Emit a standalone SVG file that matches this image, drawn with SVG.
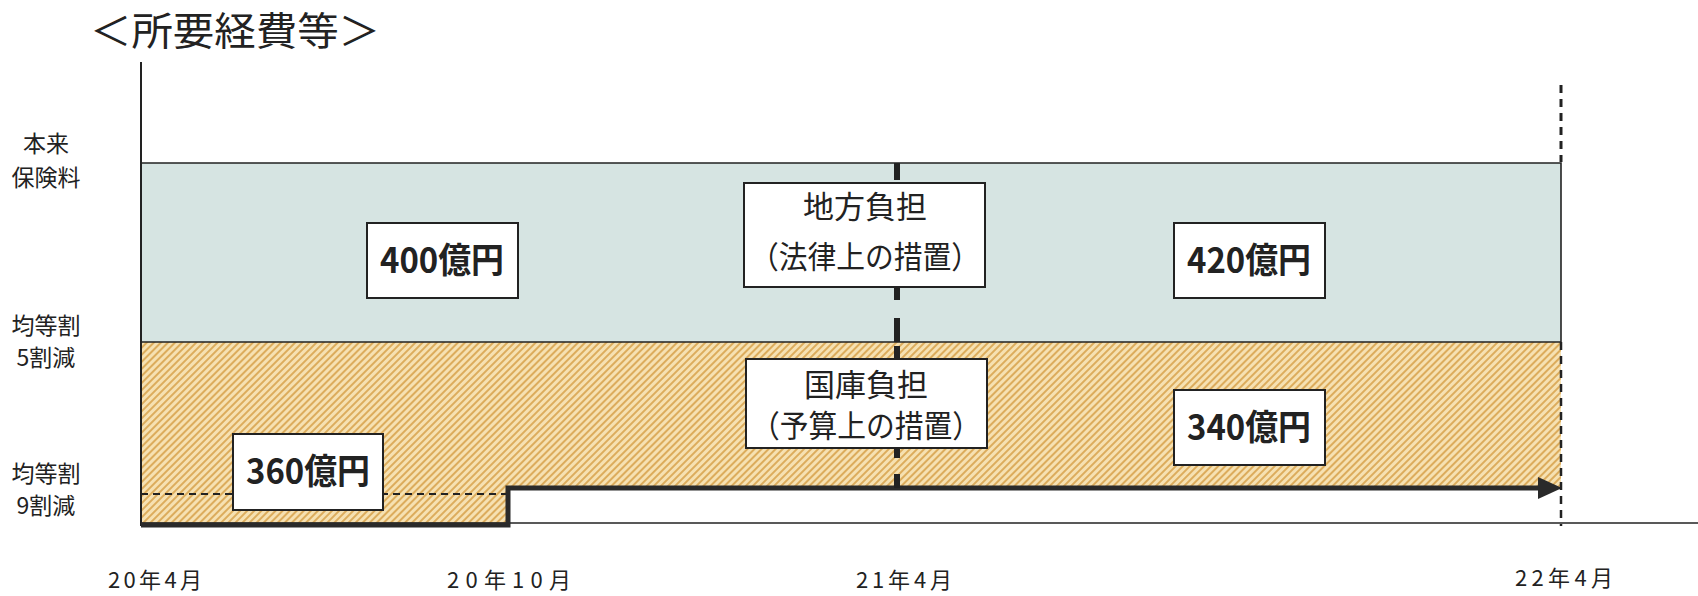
<svg xmlns="http://www.w3.org/2000/svg" width="1698" height="596" viewBox="0 0 1698 596">
<defs>
<pattern id="hatch" patternUnits="userSpaceOnUse" width="5" height="5" patternTransform="rotate(45)">
<rect width="5" height="5" fill="#f6e1b2"/>
<rect width="2" height="5" fill="#dcac5c"/>
</pattern>
</defs>
<style>
.jp{font-family:"Noto Sans CJK JP","Noto Sans",sans-serif;fill:#222}
.lbl{font-size:23px;text-anchor:middle}
.ax{font-size:22px;text-anchor:middle}
.amt{font-family:"Noto Sans CJK JP",sans-serif;font-weight:bold;font-size:35px;fill:#222;text-anchor:middle}
.box{fill:#fff;stroke:#222;stroke-width:2}
.note{font-size:31px;text-anchor:middle}
</style>
<rect width="1698" height="596" fill="#fff"/>
<g id="title"><text class="jp" x="235" y="45" font-size="39" text-anchor="middle" textLength="290" lengthAdjust="spacingAndGlyphs">＜所要経費等＞</text></g>
<g id="bands">
<rect x="141" y="163" width="1420" height="179" fill="#d6e4e2"/>
<path d="M141 342 H1561 V488 H508 V525 H141 Z" fill="url(#hatch)"/>
<path d="M141 163 H1561 V342 M141 342 H1561" fill="none" stroke="#222" stroke-width="1.6"/>
</g>
<g id="y-labels">
<text class="jp lbl" x="46" y="152">本来</text>
<text class="jp lbl" x="46" y="186">保険料</text>
<text class="jp lbl" x="46" y="334">均等割</text>
<text class="jp lbl" x="46" y="366">5割減</text>
<text class="jp lbl" x="46" y="482">均等割</text>
<text class="jp lbl" x="46" y="514">9割減</text>
</g>
<g id="connectors">
<line x1="141" y1="62" x2="141" y2="526" stroke="#222" stroke-width="2"/>
<line x1="141" y1="523" x2="1698" y2="523" stroke="#222" stroke-width="1.6"/>
<line x1="141" y1="494" x2="508" y2="494" stroke="#222" stroke-width="1.8" stroke-dasharray="7 5"/>
<path d="M141 525 H508 V488 H1542" fill="none" stroke="#2a2a2a" stroke-width="5"/>
<polygon points="1538,477 1562,488 1538,499" fill="#2a2a2a"/>
<line x1="1561" y1="85" x2="1561" y2="162" stroke="#222" stroke-width="3" stroke-dasharray="8 6"/>
<line x1="1561" y1="342" x2="1561" y2="526" stroke="#222" stroke-width="2.5" stroke-dasharray="8 6"/>
<path d="M897 163 V180 M897 287 V300 M897 318 V342 M897 346 V359 M897 448 V458 M897 474 V488" stroke="#222" stroke-width="6" fill="none"/>
</g>
<g id="box400">
<rect class="box" x="367" y="223" width="151" height="75"/>
<text class="amt" x="442" y="273" textLength="124" lengthAdjust="spacingAndGlyphs">400億円</text>
</g>
<g id="box420">
<rect class="box" x="1174" y="223" width="151" height="75"/>
<text class="amt" x="1249" y="273" textLength="124" lengthAdjust="spacingAndGlyphs">420億円</text>
</g>
<g id="box360">
<rect class="box" x="233" y="434" width="150" height="76"/>
<text class="amt" x="308" y="484" textLength="124" lengthAdjust="spacingAndGlyphs">360億円</text>
</g>
<g id="box340">
<rect class="box" x="1174" y="390" width="151" height="75"/>
<text class="amt" x="1249" y="440" textLength="124" lengthAdjust="spacingAndGlyphs">340億円</text>
</g>
<g id="box-chiho">
<rect class="box" x="744" y="183" width="241" height="104"/>
<text class="jp note" x="865" y="218">地方負担</text>
<text class="jp note" x="865" y="268" textLength="230" lengthAdjust="spacingAndGlyphs">（法律上の措置）</text>
</g>
<g id="box-kokko">
<rect class="box" x="746" y="359" width="241" height="89"/>
<text class="jp note" x="866" y="396">国庫負担</text>
<text class="jp note" x="866" y="437" textLength="230" lengthAdjust="spacingAndGlyphs">（予算上の措置）</text>
</g>
<g id="x-labels">
<text class="jp ax" x="155" y="588" textLength="94" lengthAdjust="spacing">20年4月</text>
<text class="jp ax" x="509" y="588" textLength="124" lengthAdjust="spacing">20年10月</text>
<text class="jp ax" x="904" y="588" textLength="96" lengthAdjust="spacing">21年4月</text>
<text class="jp ax" x="1564" y="586" textLength="98" lengthAdjust="spacing">22年4月</text>
</g>
</svg>
